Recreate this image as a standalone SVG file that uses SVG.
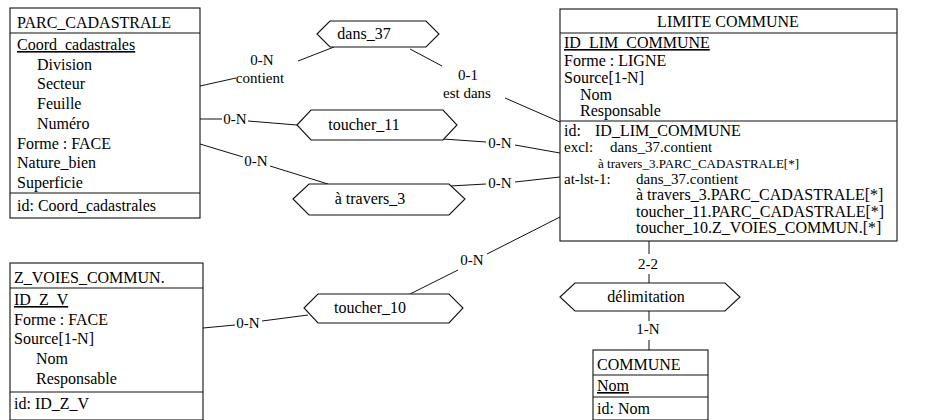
<svg xmlns="http://www.w3.org/2000/svg" width="939" height="420" viewBox="0 0 939 420">
<style>
text { font-family: "Liberation Serif", "Times New Roman", serif; font-size: 16px; fill: #000; }
.box { fill: #fff; stroke: #111; stroke-width: 1.1; }
.sep { stroke: #111; stroke-width: 1.1; }
.rel { fill: #fff; stroke: #111; stroke-width: 1.1; }
.c { stroke: #111; stroke-width: 1; fill: none; }
.card { font-size: 15px; text-anchor: middle; }
.mid { text-anchor: middle; }
.u { text-decoration: underline; }
.s13 { font-size: 13px; }
.s15 { font-size: 15px; }
</style>
<rect width="939" height="420" fill="#fff"/>

<g id="connectors">
  <path class="c" d="M200,86 L236,78 M298,61 L334,47"/>
  <path class="c" d="M410,49 L442,66 M505,98 L560,122"/>
  <path class="c" d="M200,119 L222,119 M248,121 L297,125"/>
  <path class="c" d="M443,139 L486,142 M515,145 L560,153"/>
  <path class="c" d="M200,144 L243,157 M270,166 L328,184"/>
  <path class="c" d="M450,186 L486,184 M515,182 L560,177"/>
  <path class="c" d="M203,328 L235,325 M262,321 L308,315"/>
  <path class="c" d="M410,294 L458,270 M487,254 L560,217"/>
  <path class="c" d="M649,241 L649,254 M649,274 L649,283 M649,311 L649,321 M649,340 L649,350"/>
  <text class="card" x="262" y="65">0-N</text>
  <text class="card" x="260" y="83">contient</text>
  <text class="card" x="468" y="80">0-1</text>
  <text class="card" x="467" y="98">est dans</text>
  <text class="card" x="235" y="124">0-N</text>
  <text class="card" x="500" y="148">0-N</text>
  <text class="card" x="256" y="166">0-N</text>
  <text class="card" x="500" y="188">0-N</text>
  <text class="card" x="248" y="328">0-N</text>
  <text class="card" x="472" y="265">0-N</text>
  <text class="card" x="648" y="269">2-2</text>
  <text class="card" x="648" y="334">1-N</text>
</g>

<g id="PARC_CADASTRALE">
  <rect class="box" x="10" y="8" width="190" height="210"/>
  <line class="sep" x1="10" y1="33" x2="200" y2="33"/>
  <line class="sep" x1="10" y1="193" x2="200" y2="193"/>
  <text x="17" y="28">PARC_CADASTRALE</text>
  <text class="u" x="17" y="50">Coord_cadastrales</text>
  <text x="37" y="70">Division</text>
  <text x="37" y="89">Secteur</text>
  <text x="37" y="109">Feuille</text>
  <text x="37" y="129">Numéro</text>
  <text x="17" y="149">Forme : FACE</text>
  <text x="17" y="168">Nature_bien</text>
  <text x="17" y="188">Superficie</text>
  <text x="17" y="211">id: Coord_cadastrales</text>
</g>

<g id="LIMITE_COMMUNE">
  <rect class="box" x="560" y="9" width="337" height="232"/>
  <line class="sep" x1="560" y1="33" x2="897" y2="33"/>
  <line class="sep" x1="560" y1="121" x2="897" y2="121"/>
  <text class="mid" x="728" y="27">LIMITE COMMUNE</text>
  <text class="u" x="564" y="48">ID_LIM_COMMUNE</text>
  <text x="564" y="66">Forme : LIGNE</text>
  <text x="564" y="83">Source[1-N]</text>
  <text x="580" y="100">Nom</text>
  <text x="580" y="116">Responsable</text>
  <text x="564" y="136">id:</text>
  <text x="595" y="136">ID_LIM_COMMUNE</text>
  <text class="s15" x="564" y="152">excl:</text>
  <text class="s15" x="610" y="152">dans_37.contient</text>
  <text class="s13" x="598" y="168">à travers_3.PARC_CADASTRALE[*]</text>
  <text class="s15" x="564" y="184">at-lst-1:</text>
  <text class="s15" x="636" y="184">dans_37.contient</text>
  <text x="636" y="200">à travers_3.PARC_CADASTRALE[*]</text>
  <text x="636" y="217">toucher_11.PARC_CADASTRALE[*]</text>
  <text x="636" y="233">toucher_10.Z_VOIES_COMMUN.[*]</text>
</g>

<g id="Z_VOIES_COMMUN">
  <rect class="box" x="10" y="263" width="193" height="157"/>
  <line class="sep" x1="10" y1="288" x2="203" y2="288"/>
  <line class="sep" x1="10" y1="392" x2="203" y2="392"/>
  <text x="14" y="283">Z_VOIES_COMMUN.</text>
  <text class="u" x="14" y="305">ID_Z_V</text>
  <text x="14" y="325">Forme : FACE</text>
  <text x="14" y="344">Source[1-N]</text>
  <text x="36" y="364">Nom</text>
  <text x="36" y="384">Responsable</text>
  <text x="14" y="409">id: ID_Z_V</text>
</g>

<g id="COMMUNE">
  <rect class="box" x="593" y="350" width="115" height="70"/>
  <line class="sep" x1="593" y1="375" x2="708" y2="375"/>
  <line class="sep" x1="593" y1="397" x2="708" y2="397"/>
  <text x="597" y="370">COMMUNE</text>
  <text class="u" x="597" y="391">Nom</text>
  <text x="597" y="414">id: Nom</text>
</g>

<g id="dans_37">
  <polygon class="rel" points="317,34 330,21 426,21 439,34 426,47 330,47"/>
  <text class="mid" x="364" y="39">dans_37</text>
</g>
<g id="toucher_11">
  <polygon class="rel" points="297,125 311,110 443,110 457,125 443,140 311,140"/>
  <text class="mid" x="364" y="130">toucher_11</text>
</g>
<g id="a_travers_3">
  <polygon class="rel" points="293,199 309,184 449,184 465,199 449,215 309,215"/>
  <text class="mid" x="370" y="204">à travers_3</text>
</g>
<g id="toucher_10">
  <polygon class="rel" points="304,308 318,294 449,294 463,308 449,323 318,323"/>
  <text class="mid" x="370" y="313">toucher_10</text>
</g>
<g id="delimitation">
  <polygon class="rel" points="560,297 575,283 725,283 740,297 725,311 575,311"/>
  <text class="mid" x="646" y="302">délimitation</text>
</g>
</svg>
